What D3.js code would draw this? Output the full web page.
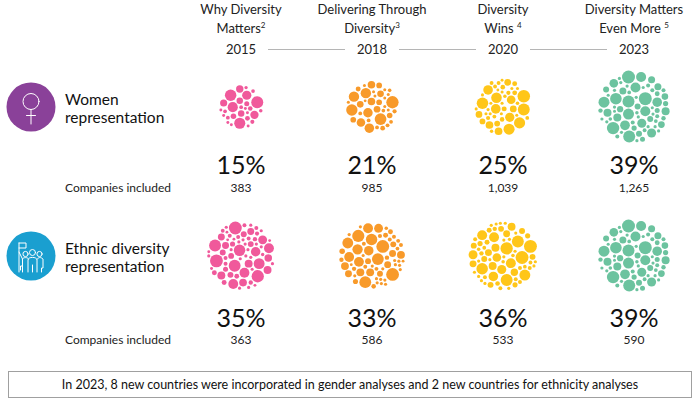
<!DOCTYPE html>
<html><head><meta charset="utf-8">
<script src="https://cdn.jsdelivr.net/npm/d3@7"></script>
<style>
html,body{margin:0;padding:0;background:#fff;}
svg{display:block;font-family:Lato,"Noto Sans",sans-serif;}
</style></head>
<body>
<svg id="chart" width="700" height="401"></svg>
<script>
// ---- data ----
const years = ["2015", "2018", "2020", "2023"];
const reportTitles = [["Why Diversity", "Matters", "2"], ["Delivering Through", "Diversity", "3"], ["Diversity", "Wins ", "4"], ["Diversity Matters", "Even More ", "5"]];
const rowLabels = [["Women", "representation"], ["Ethnic diversity", "representation"]];
const womenShare = [15, 21, 25, 39];
const womenCompanies = ["383", "985", "1,039", "1,265"];
const ethnicShare = [35, 33, 36, 39];
const ethnicCompanies = ["363", "586", "533", "590"];
const yearColors = ["#f0599b", "#f89a2a", "#ffc619", "#6cc39f"];
const footnote = "In 2023, 8 new countries were incorporated in gender analyses and 2 new countries for ethnicity analyses";
// decorative bubble size pattern (radii in px, cycled)
const bubblePattern = [6.5, 2, 5, 1.6, 4, 6, 2.5, 1.6, 3.5, 5.5, 2, 1.6, 4.5, 3, 6.2, 1.6, 2.2, 5, 3.5, 1.6, 4, 2.6, 5.8, 1.6, 3, 2, 4.8, 1.6];

const rows = [
  {label: rowLabels[0], share: womenShare, companies: womenCompanies, cy: 107, pctY: 174, cntY: 192, iconColor: "#8a4199", icon: "women"},
  {label: rowLabels[1], share: ethnicShare, companies: ethnicCompanies, cy: 256, pctY: 327, cntY: 344, iconColor: "#1a9fd0", icon: "ethnic"}
];

const svg = d3.select("#chart");
const x = d3.scalePoint().domain(years).range([241, 634]);
const rScale = d3.scaleSqrt().domain([0, 39]).range([0, 37]);

// deterministic best-fit circle filling of a disk of radius R
function fillDisk(R) {
  const step = 0.7, pad = 1.1, minR = 1.4;
  const k = 0.8 + 0.2 * R / 37;
  const pts = [];
  for (let py = -R; py <= R; py += step)
    for (let px = -R; px <= R; px += step) {
      const d = Math.hypot(px, py);
      if (d < R) pts.push({x: px, y: py, c: R - d});
    }
  const out = [];
  let i = 0, fails = 0;
  while (fails < bubblePattern.length && i < 400) {
    const want = bubblePattern[i % bubblePattern.length] * k;
    i++;
    let best = null, bestSlack = Infinity, maxP = null, maxC = -Infinity;
    for (const p of pts) {
      const s = p.c - pad * (out.length ? 1 : 0) - want;
      if (s >= 0 && s < bestSlack) { bestSlack = s; best = p; }
      if (p.c > maxC) { maxC = p.c; maxP = p; }
    }
    let r = want, at = best;
    if (!at) {
      r = maxC - pad;
      at = maxP;
      if (r < minR) { fails++; continue; }
    } else fails = 0;
    out.push({x: at.x, y: at.y, r});
    for (const p of pts) {
      const c = Math.hypot(p.x - at.x, p.y - at.y) - r;
      if (c < p.c) p.c = c;
    }
  }
  return out;
}

// header
const head = svg.append("g");
years.forEach((yr, i) => {
  const t = reportTitles[i];
  head.append("text").attr("x", x(yr)).attr("y", 14).attr("text-anchor", "middle")
    .attr("font-size", 13).attr("fill", "#222").text(t[0]);
  const l2 = head.append("text").attr("x", x(yr)).attr("y", 33).attr("text-anchor", "middle")
    .attr("font-size", 13).attr("fill", "#222");
  l2.append("tspan").text(t[1]);
  l2.append("tspan").attr("font-size", 8).attr("dy", -5).text(t[2]);
  head.append("text").attr("x", x(yr)).attr("y", 54).attr("text-anchor", "middle")
    .attr("font-size", 13).attr("fill", "#222").text(yr);
  if (i < years.length - 1) {
    head.append("line").attr("x1", x(yr) + 27).attr("x2", x(years[i + 1]) - 27)
      .attr("y1", 49.5).attr("y2", 49.5).attr("stroke", "#b5b5b5").attr("stroke-width", 1);
  }
});

// rows
rows.forEach(row => {
  const g = svg.append("g");
  const ic = g.append("g").attr("transform", `translate(31,${row.cy})`);
  ic.append("circle").attr("r", 24.5).attr("fill", row.iconColor);
  const applySt = sel => sel.attr("fill", "none").attr("stroke", "#fff").attr("stroke-width", 1)
    .attr("stroke-linecap", "round").attr("stroke-linejoin", "round");
  if (row.icon === "women") {
    applySt(ic.append("circle").attr("cx", 0).attr("cy", -5.5).attr("r", 8));
    applySt(ic.append("line").attr("x1", 0).attr("x2", 0).attr("y1", 2.5).attr("y2", 17));
    applySt(ic.append("line").attr("x1", -4.5).attr("x2", 4.5).attr("y1", 8.5).attr("y2", 8.5));
  } else {
    applySt(ic.append("path").attr("d", "M-12,16 L-12,-13 M-12,-13 L-5,-13 L-5,-8 L-12,-8"));
    applySt(ic.append("circle").attr("cx", -5.5).attr("cy", -2).attr("r", 2.6));
    applySt(ic.append("circle").attr("cx", 1.5).attr("cy", -3.5).attr("r", 3));
    applySt(ic.append("circle").attr("cx", 8.5).attr("cy", -2).attr("r", 2.6));
    applySt(ic.append("path").attr("d", "M-12,-4 L-8.5,3 L-8.5,16 M-8.5,3 C-8,1 -3,1 -2.5,3"));
    applySt(ic.append("path").attr("d", "M-3,16 L-3,4 C-3,0.5 6,0.5 6,4 L6,16 M1.5,9 L1.5,16"));
    applySt(ic.append("path").attr("d", "M6.5,3 C7,1 10,1 12,3 L12,12 L10.5,12 L10.5,16"));
    applySt(ic.append("path").attr("d", "M-8.5,10 L-10.5,10 L-10.5,14"));
  }
  row.label.forEach((ln, j) => {
    g.append("text").attr("x", 65).attr("y", row.cy - 2 + j * 17.5).attr("font-size", 15.5)
      .attr("fill", "#111").text(ln);
  });
  g.append("text").attr("x", 65).attr("y", row.cntY).attr("font-size", 12).attr("fill", "#222")
    .text("Companies included");

  years.forEach((yr, i) => {
    const v = row.share[i];
    const R = rScale(v);
    const bubbles = fillDisk(R);
    const cg = g.append("g").attr("transform", `translate(${x(yr)},${row.cy})`);
    cg.selectAll("circle").data(bubbles).join("circle")
      .attr("cx", d => d.x).attr("cy", d => d.y).attr("r", d => d.r)
      .attr("fill", yearColors[i]);
    g.append("text").attr("x", x(yr)).attr("y", row.pctY).attr("text-anchor", "middle")
      .attr("font-size", 25).attr("fill", "#111").text(v + "%");
    g.append("text").attr("x", x(yr)).attr("y", row.cntY).attr("text-anchor", "middle")
      .attr("font-size", 12).attr("fill", "#222").text(row.companies[i]);
  });
});

svg.append("rect").attr("x", 8.5).attr("y", 371.5).attr("width", 683).attr("height", 26)
  .attr("fill", "none").attr("stroke", "#a0a0a0").attr("stroke-width", 1);
svg.append("text").attr("x", 350).attr("y", 389).attr("text-anchor", "middle")
  .attr("font-size", 12.5).attr("fill", "#111").text(footnote);
</script>
</body></html>
